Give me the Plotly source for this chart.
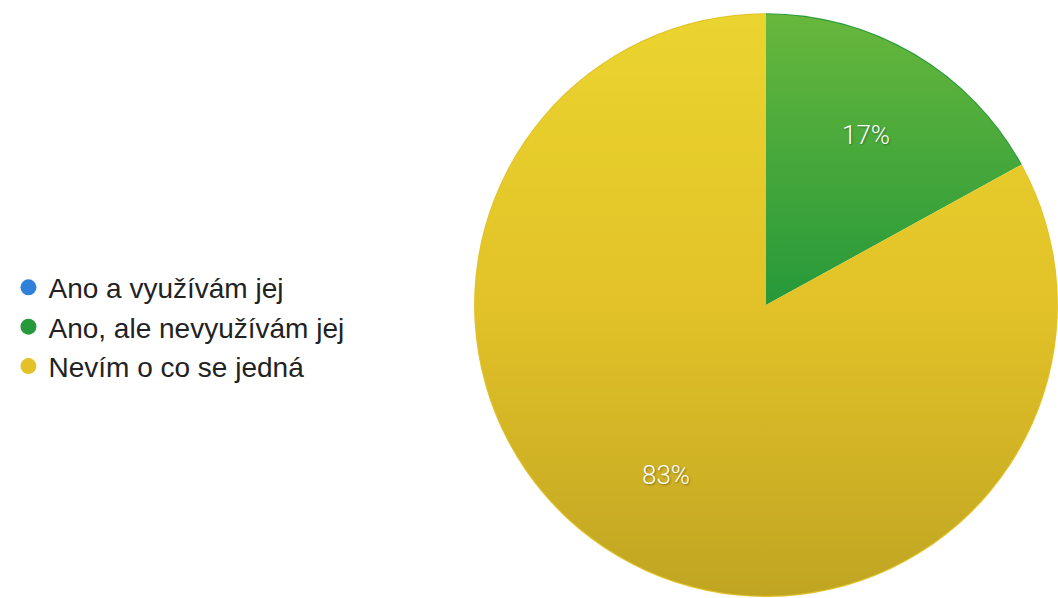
import base64
import math
import plotly.graph_objects as go

labels = ["Ano a využívám jej", "Ano, ale nevyužívám jej", "Nevím o co se jedná"]
values = [0, 17, 83]
colors = ["#2f80d9", "#26993a", "#e2c228"]

# pie placement (paper coordinates)
dom_x = [0.448, 1.0]
dom_y = [0.0017, 0.978]
W, H = 1058, 598

fig = go.Figure()

fig.add_trace(go.Pie(
    labels=labels,
    values=values,
    sort=False,
    direction="clockwise",
    rotation=0,
    marker=dict(colors=colors, line=dict(width=0)),
    textinfo="none",
    showlegend=False,
    hoverinfo="label+percent",
    domain=dict(x=dom_x, y=dom_y),
))

# legend entries with round markers
for lab, col in zip(labels, colors):
    fig.add_trace(go.Scatter(
        x=[None], y=[None], mode="markers", name=lab,
        marker=dict(symbol="circle", size=16, color=col),
        showlegend=True,
    ))

# percentage labels placed along each slice's bisector
cx = (dom_x[0] + dom_x[1]) / 2
cy = (dom_y[0] + dom_y[1]) / 2
r_px = min((dom_x[1] - dom_x[0]) * W, (dom_y[1] - dom_y[0]) * H) / 2
total = sum(values)
cum = 0.0
for v in values:
    if v > 0:
        mid = (cum + v / 2) / total * 2 * math.pi
        dx = math.sin(mid) * r_px * 0.675 / W
        dy = math.cos(mid) * r_px * 0.675 / H
        fig.add_annotation(
            x=cx + dx, y=cy + dy, xref="paper", yref="paper",
            xanchor="center", yanchor="middle",
            text=f"{v / total:.0%}", showarrow=False,
            font=dict(family="Roboto", size=26, color="white", weight=300,
                      shadow="1px 1px 2px rgba(0,0,0,0.35)"),
        )
    cum += v

# soft vertical shading over the pie
svg = (
    '<svg xmlns="http://www.w3.org/2000/svg" viewBox="0 0 200 200">'
    '<defs><linearGradient id="g" x1="0" y1="0" x2="0" y2="1">'
    '<stop offset="0" stop-color="#ffff40" stop-opacity="0.3"/>'
    '<stop offset="0.5" stop-color="#ffff40" stop-opacity="0"/>'
    '<stop offset="0.5" stop-color="#000000" stop-opacity="0"/>'
    '<stop offset="1" stop-color="#000000" stop-opacity="0.15"/>'
    '</linearGradient></defs>'
    '<circle cx="100" cy="100" r="99.6" fill="url(#g)"/></svg>'
)
src = "data:image/svg+xml;base64," + base64.b64encode(svg.encode()).decode()
fig.add_layout_image(
    source=src, xref="paper", yref="paper",
    x=dom_x[0], y=dom_y[1], sizex=dom_x[1] - dom_x[0], sizey=dom_y[1] - dom_y[0],
    xanchor="left", yanchor="top", sizing="stretch", layer="above",
)

fig.update_layout(
    width=W, height=H,
    margin=dict(l=0, r=0, t=0, b=0),
    paper_bgcolor="white", plot_bgcolor="white",
    xaxis=dict(visible=False), yaxis=dict(visible=False),
    legend=dict(
        x=0.008, y=0.453, xanchor="left", yanchor="middle",
        font=dict(family="Liberation Sans", size=28, color="#222222"),
        tracegroupgap=0, itemsizing="trace",
        bgcolor="rgba(0,0,0,0)",
    ),
)

fig.write_html("out.html")
